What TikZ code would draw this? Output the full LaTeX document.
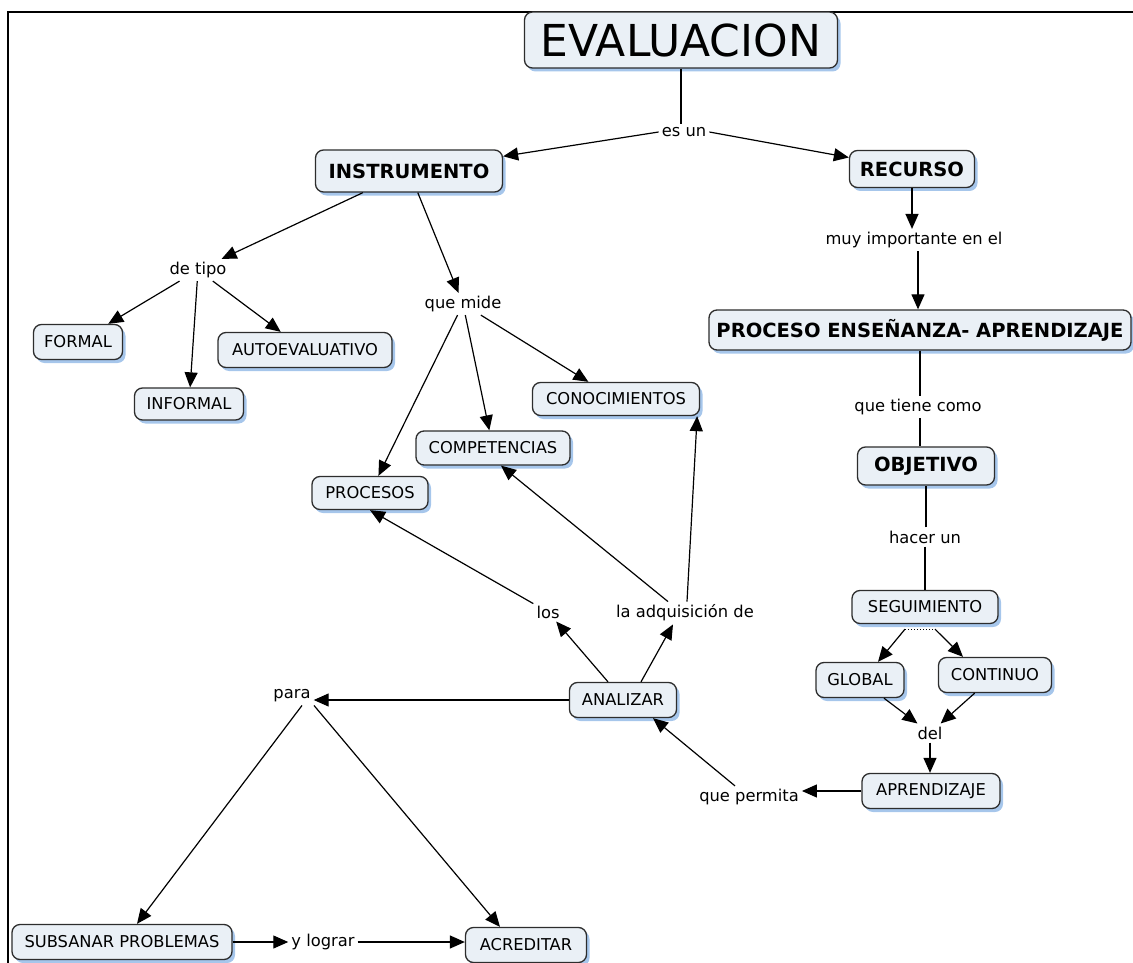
\documentclass[tikz,border=0pt]{standalone}
\usepackage{fontspec}
\setmainfont{DejaVu Sans}
\usetikzlibrary{arrows.meta,shadows}

\definecolor{conceptfill}{RGB}{234,240,246}
\definecolor{conceptline}{RGB}{45,45,45}
\definecolor{conceptshadow}{RGB}{150,188,232}

\tikzset{
  concept/.style={draw=conceptline, line width=1.3pt, fill=conceptfill,
    rounded corners=8pt, inner sep=0pt, font=\fontsize{16.3}{18}\selectfont,
    drop shadow={fill=conceptshadow, shadow xshift=3pt, shadow yshift=-3.5pt, opacity=0.85}},
  keyconcept/.style={concept, font=\fontsize{19.5}{22}\selectfont\bfseries},
  linkword/.style={fill=white, inner sep=3pt, font=\fontsize{16.3}{18}\selectfont},
  arr/.style={draw=black, line width=1.2pt, -{Triangle[length=15pt,width=13pt]}},
  plain/.style={draw=black, line width=1.2pt},
}

\begin{document}
\begin{tikzpicture}[x=1pt,y=-1pt]
\useasboundingbox (0,0) rectangle (1133,963);

% page frame (top and left edges)
\draw[line width=2.5pt] (8,963) -- (8,12) -- (1133,12);

% concepts
\node[concept, minimum width=313pt, minimum height=56pt, font=\fontsize{44}{48}\selectfont] (eval) at (681,40) {EVALUACION};
\node[keyconcept, minimum width=187pt, minimum height=42pt] (instr) at (409,171) {INSTRUMENTO};
\node[keyconcept, minimum width=125pt, minimum height=37pt] (recurso) at (912,169) {RECURSO};
\node[keyconcept, minimum width=422pt, minimum height=40pt] (proceso) at (920,330) {PROCESO ENSEÑANZA- APRENDIZAJE};
\node[keyconcept, minimum width=137pt, minimum height=38pt] (objetivo) at (926,466) {OBJETIVO};
\node[concept, minimum width=146pt, minimum height=33pt] (seg) at (925,607) {SEGUIMIENTO};
\node[concept, minimum width=88pt, minimum height=35pt] (global) at (860,680) {GLOBAL};
\node[concept, minimum width=113pt, minimum height=35pt] (continuo) at (995,675) {CONTINUO};
\node[concept, minimum width=138pt, minimum height=35pt] (aprend) at (931,791) {APRENDIZAJE};
\node[concept, minimum width=107pt, minimum height=35pt] (analizar) at (623,700) {ANALIZAR};
\node[concept, minimum width=220pt, minimum height=35pt] (subsanar) at (122,942) {SUBSANAR PROBLEMAS};
\node[concept, minimum width=121pt, minimum height=35pt] (acreditar) at (526,945) {ACREDITAR};
\node[concept, minimum width=116pt, minimum height=33pt] (procesos) at (370,493) {PROCESOS};
\node[concept, minimum width=154pt, minimum height=34pt] (comp) at (493,448) {COMPETENCIAS};
\node[concept, minimum width=167pt, minimum height=33pt] (conoc) at (616,399) {CONOCIMIENTOS};
\node[concept, minimum width=89pt, minimum height=35pt] (formal) at (78,342) {FORMAL};
\node[concept, minimum width=109pt, minimum height=32pt] (informal) at (189,404) {INFORMAL};
\node[concept, minimum width=174pt, minimum height=35pt] (autoeval) at (305,350) {AUTOEVALUATIVO};

% linking phrases
\node[linkword] (esun) at (684,132) {es un};
\node[linkword] (muy) at (914,240) {muy importante en el};
\node[linkword] (qtc) at (918,407) {que tiene como};
\node[linkword] (hacer) at (925,537) {hacer un};
\node[linkword] (del) at (930,733) {del};
\node[linkword] (qp) at (749,797) {que permita};
\node[linkword] (los) at (548,612) {los};
\node[linkword] (adq) at (685,613) {la adquisición de};
\node[linkword] (para) at (292,696) {para};
\node[linkword] (ylograr) at (323,942) {y lograr};
\node[linkword] (quemide) at (463,304) {que mide};
\node[linkword] (detipo) at (198,270) {de tipo};

% joint under SEGUIMIENTO
\coordinate (segl) at ([xshift=-20pt,yshift=-5pt]seg.south);
\coordinate (segr) at ([xshift=10pt,yshift=-5pt]seg.south);
\draw[dotted, line width=1pt] (segl) -- (segr);

% connectors
\draw[plain] (eval.south) -- (eval.south |- esun.north);
\draw[arr] (esun.west) -- (instr);
\draw[arr] (esun.east) -- (recurso);
\draw[arr] (recurso.south) -- (recurso.south |- muy.north);
\draw[arr] ([xshift=4pt]muy.south) -- ([xshift=4pt]muy.south |- proceso.north);
\draw[plain] (proceso.south) -- (proceso.south |- qtc.north);
\draw[plain] ([xshift=2pt]qtc.south) -- ([xshift=2pt]qtc.south |- objetivo.north);
\draw[plain] (hacer.north -| objetivo.south) -- (objetivo.south);
\draw[plain] (hacer.south) -- (hacer.south |- seg.north);
\draw[arr] (segl) -- ([xshift=18pt]global.north);
\draw[arr] (segr) -- ([xshift=-32pt]continuo.north);
\draw[arr] (global) -- (del);
\draw[arr] (continuo) -- (del);
\draw[arr] (del.south) -- (del.south |- aprend.north);
\draw[arr] (aprend.west) -- (aprend.west -| qp.east);
\draw[arr] ([xshift=-14pt]qp.north) -- ([xshift=30pt]analizar.south);
\draw[arr] (analizar.west) -- (analizar.west -| para.east);
\draw[arr] ([xshift=-15pt]analizar.north) -- (los);
\draw[arr] ([xshift=18pt]analizar.north) -- ([xshift=-12pt]adq.south);
\draw[arr] (los) -- (procesos.south);
\draw[arr] ([xshift=-17pt]adq.north) -- ([xshift=8pt]comp.south);
\draw[arr] ([xshift=2pt]adq.north) -- ([xshift=-3pt]conoc.south east);
\draw[arr] (instr) -- (detipo);
\draw[arr] (instr) -- (quemide);
\draw[arr] (detipo) -- (formal);
\draw[arr] (detipo) -- (informal);
\draw[arr] (detipo) -- (autoeval);
\draw[arr] (quemide) -- (procesos);
\draw[arr] (quemide) -- (comp);
\draw[arr] (quemide) -- (conoc);
\draw[arr] ([xshift=10pt]para.south) -- ([xshift=15pt]subsanar.north);
\draw[arr] ([xshift=22pt]para.south) -- ([xshift=-26pt]acreditar.north);
\draw[arr] (subsanar.east) -- (subsanar.east -| ylograr.west);
\draw[arr] (ylograr.east) -- (ylograr.east -| acreditar.west);
\end{tikzpicture}
\end{document}
